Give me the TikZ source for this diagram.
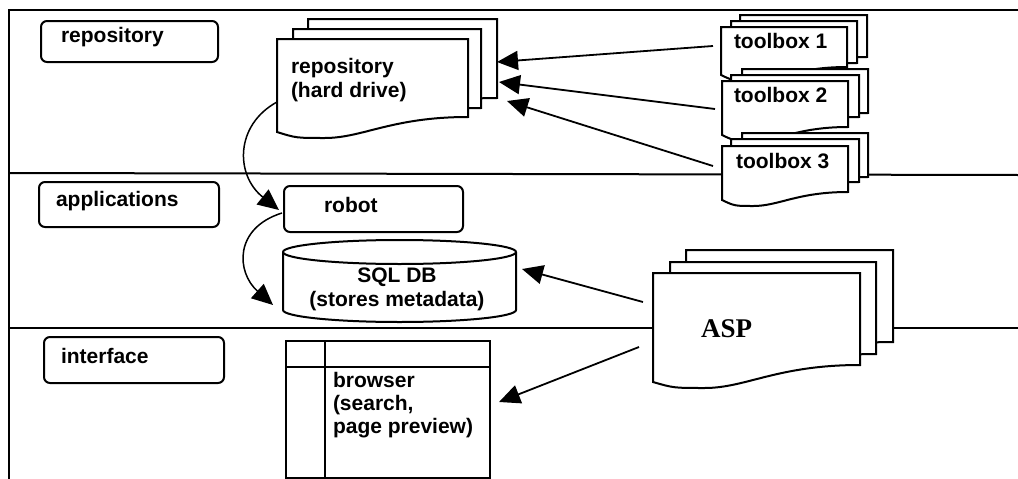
\documentclass[tikz,border=0pt]{standalone}
\usepackage{fontspec}
\setmainfont{Liberation Sans}
\newfontfamily\aspfont{Liberation Serif}
\usetikzlibrary{arrows.meta}
\newcommand\docshape[5]{%
  \path[docstyle] (#1,#2) -- (#3,#2) -- (#3,#5)
    .. controls ({#1+0.6*(#3-#1)},#5) and ({#1+0.45*(#3-#1)},{#4+6}) .. ({#1+0.25*(#3-#1)},{#4+6})
    .. controls ({#1+0.1*(#3-#1)},{#4+6}) .. (#1,#4) -- cycle;}
\begin{document}
\begin{tikzpicture}[x=1pt,y=-1pt,line width=2pt,
  lbl/.style={font=\bfseries\fontsize{21}{24}\selectfont,inner sep=0pt,anchor=base west},
  ctr/.style={font=\bfseries\fontsize{21}{24}\selectfont,inner sep=0pt,anchor=base},
  labelbox/.style={draw,fill=white,rounded corners=6pt,anchor=north west,inner sep=0pt},
  docstyle/.style={draw,fill=white,line join=miter},
  arr/.style={-{Triangle[length=21pt,width=19pt]},line width=1.8pt},
  curvearr/.style={-{Triangle[length=21pt,width=19pt]},line width=1.5pt}]
\useasboundingbox (0,0) rectangle (1018,479);
% frame and lane separators
\draw (1018,10) -- (9,10) -- (9,479);
\draw (9,173) -- (1018,175);
\draw (9,328) -- (1018,328);
% lane labels
\node[labelbox,minimum width=177pt,minimum height=41pt] (repbox) at (40,20) {};
\node[lbl] (reptxt) at (60,42) {repository};
\node[labelbox,minimum width=180pt,minimum height=45pt] (appbox) at (38,181) {};
\node[lbl] (apptxt) at (55,206) {applications};
\node[labelbox,minimum width=180pt,minimum height=46pt] (intbox) at (43,336) {};
\node[lbl] (inttxt) at (60,363) {interface};
% repository stack
\docshape{308}{19}{497}{112}{98}
\docshape{293}{29}{481}{122}{108}
\docshape{277}{39}{468}{132}{117}
\node[lbl] (repo1) at (290,73) {repository};
\node[lbl] (repo2) at (290,97) {(hard drive)};
% toolbox stacks
\docshape{740}{15}{867}{63}{57}
\docshape{731}{21}{857}{69}{63}
\docshape{721}{27}{847}{75}{67}
\node[lbl] (tb1) at (733,48) {toolbox 1};
\docshape{742}{69}{868}{123}{113}
\docshape{731}{75}{859}{129}{117}
\docshape{722}{81}{848}{135}{127}
\node[lbl] (tb2) at (733,102) {toolbox 2};
\docshape{742}{133}{868}{187}{177}
\docshape{731}{139}{859}{193}{182}
\docshape{722}{146}{848}{200}{192}
\node[lbl] (tb3) at (735,168) {toolbox 3};
% robot
\node[labelbox,minimum width=179pt,minimum height=46pt] (robot) at (283,185) {};
\node[lbl] (robottxt) at (323,212) {robot};
% SQL DB cylinder
\path[draw,fill=white] (283,252) -- (283,310)
  arc[start angle=180,end angle=360,x radius=116.5pt,y radius=12pt] -- (516,252)
  arc[start angle=0,end angle=180,x radius=116.5pt,y radius=12pt] -- cycle;
\draw (283,252) arc[start angle=180,end angle=360,x radius=116.5pt,y radius=12pt];
\node[ctr] (sql1) at (397,282) {SQL DB};
\node[ctr] (sql2) at (397,306) {(stores metadata)};
% ASP stack
\docshape{686}{250}{893}{359}{342}
\docshape{670}{262}{876}{371}{354}
\docshape{653}{273}{860}{382}{365}
\node[font=\aspfont\bfseries\fontsize{27}{30}\selectfont,inner sep=0pt,anchor=base west] (asp) at (700,337) {ASP};
% browser
\node[draw,fill=white,anchor=north west,minimum width=204pt,minimum height=137pt,inner sep=0pt] (browser) at (285,340) {};
\draw (325,340) -- (325,477);
\draw (285,367) -- (489,367);
\node[lbl] (br1) at (332,387) {browser};
\node[lbl] (br2) at (332,410) {(search,};
\node[lbl] (br3) at (332,433) {page preview)};
% connector end points
\coordinate (tb1out) at (713,46);
\coordinate (tb2out) at (715,109);
\coordinate (tb3out) at (713,166);
\coordinate (repin1) at (497,62);
\coordinate (repin2) at (499,82);
\coordinate (repin3) at (507,101);
\coordinate (repout) at (277,102);
\coordinate (robotin) at (279,210);
\coordinate (robotout) at (282,213);
\coordinate (sqlin) at (273,305);
\coordinate (aspout1) at (643,302);
\coordinate (sqlin2) at (522,269);
\coordinate (aspout2) at (639,347);
\coordinate (browserin) at (499,402);
% connectors
\draw[arr] (tb1out) -- (repin1);
\draw[arr] (tb2out) -- (repin2);
\draw[arr] (tb3out) -- (repin3);
\draw[arr] (aspout1) -- (sqlin2);
\draw[arr] (aspout2) -- (browserin);
\draw[curvearr] (repout) .. controls (235,125) and (235,175) .. (robotin);
\draw[curvearr] (robotout) .. controls (234,228) and (236,272) .. (sqlin);
\end{tikzpicture}
\end{document}
